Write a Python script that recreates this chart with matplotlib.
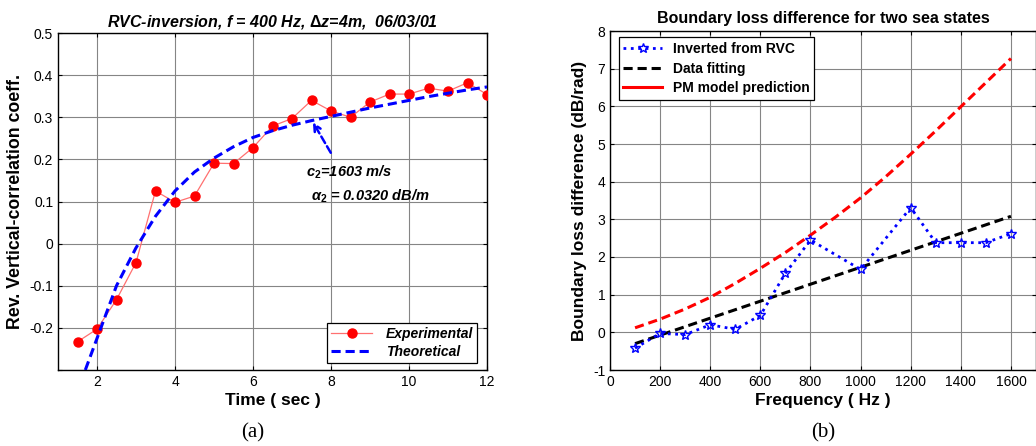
import matplotlib
matplotlib.use("Agg")
import matplotlib.pyplot as plt
from matplotlib.lines import Line2D

# ---- data (a) ----
t_exp = [1.5, 2, 2.5, 3, 3.5, 4, 4.5, 5, 5.5, 6, 6.5, 7, 7.5, 8, 8.5, 9, 9.5, 10, 10.5, 11, 11.5, 12]
rvc_exp = [-0.233, -0.203, -0.133, -0.045, 0.125, 0.098, 0.113, 0.191, 0.190, 0.228, 0.279, 0.297,
           0.340, 0.315, 0.300, 0.336, 0.355, 0.355, 0.369, 0.362, 0.382, 0.354]
t_theo = [1.7, 2.0, 2.5, 3.0, 3.5, 4.0, 4.5, 5.0, 5.5, 6.0, 6.5, 7.0, 7.5, 8.0, 8.5, 9.0, 9.5,
          10.0, 10.5, 11.0, 11.5, 12.0]
rvc_theo = [-0.30, -0.225, -0.10, -0.01, 0.065, 0.125, 0.170, 0.203, 0.230, 0.252, 0.268, 0.281,
            0.292, 0.302, 0.312, 0.322, 0.331, 0.340, 0.349, 0.357, 0.365, 0.372]

# ---- data (b) ----
f_inv = [100, 200, 300, 400, 500, 600, 700, 800, 1000, 1200, 1300, 1400, 1500, 1600]
bl_inv = [-0.42, -0.03, -0.06, 0.20, 0.08, 0.45, 1.57, 2.45, 1.67, 3.31, 2.38, 2.38, 2.38, 2.62]
f_fit = [100, 1600]
bl_fit = [-0.30, 3.08]
f_pm = [100, 200, 300, 400, 500, 600, 700, 800, 900, 1000, 1100, 1200, 1300, 1400, 1500, 1600]
bl_pm = [0.12, 0.35, 0.62, 0.93, 1.30, 1.70, 2.12, 2.58, 3.06, 3.57, 4.13, 4.73, 5.35, 5.99, 6.63, 7.27]

plt.rcParams['font.family'] = ['Liberation Sans', 'DejaVu Sans']
plt.rcParams['axes.unicode_minus'] = False
plt.rcParams['mathtext.fontset'] = 'custom'
plt.rcParams['mathtext.it'] = 'Liberation Sans:italic:bold'
plt.rcParams['mathtext.rm'] = 'Liberation Sans:bold'
plt.rcParams['mathtext.bf'] = 'Liberation Sans:bold'

W, H = 1036, 446
fig = plt.figure(figsize=(W / 100, H / 100), dpi=100)

def style(ax):
    ax.grid(True, color='#858585', linewidth=0.8)
    ax.set_axisbelow(True)
    ax.tick_params(direction='in', top=True, right=True, labelsize=10, length=3, width=0.8)
    for s in ax.spines.values():
        s.set_linewidth(1.0)

# ---- (a) ----
ax1 = fig.add_axes([58 / W, (H - 370) / H, (487 - 58) / W, (370 - 33) / H])
style(ax1)
ax1.plot(t_exp, rvc_exp, '-', color='#ff7070', linewidth=0.9, marker='o', markersize=6.5,
         markerfacecolor='red', markeredgecolor='red', label='Experimental', zorder=3)
ax1.plot(t_theo, rvc_theo, '--', color='blue', linewidth=2.2, dashes=(3, 1.6), label='Theoretical', zorder=4)
ax1.set_xlim(1, 12)
ax1.set_ylim(-0.3, 0.5)
ax1.set_xticks([2, 4, 6, 8, 10, 12])
ax1.set_yticks([-0.3, -0.2, -0.1, 0, 0.1, 0.2, 0.3, 0.4, 0.5])
ax1.set_yticklabels(['', '-0.2', '-0.1', '0', '0.1', '0.2', '0.3', '0.4', '0.5'])
ax1.set_title('RVC-inversion, f = 400 Hz, $\\Delta$z=4m,  06/03/01', fontsize=11.5,
              fontweight='bold', fontstyle='italic', pad=5)
ax1.set_xlabel('Time ( sec )', fontsize=12.5, fontweight='bold', labelpad=3)
ax1.set_ylabel('Rev. Vertical-correlation coeff.', fontsize=12.8, fontweight='bold', labelpad=4)
ax1.annotate('', xy=(7.5, 0.294), xytext=(8.03, 0.21),
             arrowprops=dict(arrowstyle='->', color='blue', linewidth=1.8, linestyle=(0, (3, 1.5)),
                             mutation_scale=12))
ax1.text(7.37, 0.17, 'c$_2$=1603 m/s', fontsize=10.5, fontweight='bold', fontstyle='italic',
         va='center', ha='left')
ax1.text(7.48, 0.113, '$\\alpha_2$ = 0.0320 dB/m', fontsize=10.5, fontweight='bold', fontstyle='italic',
         va='center', ha='left')
leg1 = ax1.legend(loc='lower right', bbox_to_anchor=(0.977, 0.02), fancybox=False, framealpha=1,
                  edgecolor='black', prop=dict(size=10, style='italic', weight='bold'),
                  handlelength=2.9, borderpad=0.3, labelspacing=0.3, handletextpad=1.0,
                  borderaxespad=0)
leg1.get_frame().set_linewidth(0.9)

# ---- (b) ----
ax2 = fig.add_axes([610 / W, (H - 370) / H, (1036 - 610) / W, (370 - 31) / H])
style(ax2)
ax2.plot(f_pm, bl_pm, '--', color='red', linewidth=2.2, dashes=(3, 1.6), zorder=3)
ax2.plot(f_fit, bl_fit, '--', color='black', linewidth=2.2, dashes=(3, 1.6), zorder=3)
ax2.plot(f_inv, bl_inv, ':', color='blue', linewidth=2.0, marker='*', markersize=7,
         markerfacecolor='none', markeredgecolor='blue', markeredgewidth=1.0, zorder=4)
ax2.set_xlim(0, 1700)
ax2.set_ylim(-1, 8)
ax2.set_xticks([0, 200, 400, 600, 800, 1000, 1200, 1400, 1600])
ax2.set_yticks(range(-1, 9))
ax2.set_title('Boundary loss difference for two sea states', fontsize=11.5, fontweight='bold', pad=6)
ax2.set_xlabel('Frequency ( Hz )', fontsize=12.5, fontweight='bold', labelpad=3)
ax2.set_ylabel('Boundary loss difference (dB/rad)', fontsize=12.5, fontweight='bold', labelpad=4)
handles = [
    Line2D([], [], linestyle=':', color='blue', linewidth=2.0, marker='*', markersize=7,
           markerfacecolor='none', markeredgecolor='blue', markevery=[1]),
    Line2D([], [], linestyle='--', color='black', linewidth=2.2, dashes=(3, 1.6)),
    Line2D([], [], linestyle='-', color='red', linewidth=2.2),
]
leg2 = ax2.legend(handles, ['Inverted from RVC', 'Data fitting', 'PM model prediction'],
                  loc='upper left', bbox_to_anchor=(0.02, 0.982), fancybox=False, framealpha=1,
                  edgecolor='black', prop=dict(size=10, weight='bold'),
                  handlelength=2.8, borderpad=0.35, labelspacing=0.4, handletextpad=0.75,
                  borderaxespad=0)
leg2.get_frame().set_linewidth(0.9)

# captions
fig.text(253 / W, 1 - 433 / H, '(a)', fontsize=15, family=['Liberation Serif', 'DejaVu Serif'],
         ha='center', va='center')
fig.text(823 / W, 1 - 433 / H, '(b)', fontsize=15, family=['Liberation Serif', 'DejaVu Serif'],
         ha='center', va='center')

fig.savefig('out.png', dpi=100)
